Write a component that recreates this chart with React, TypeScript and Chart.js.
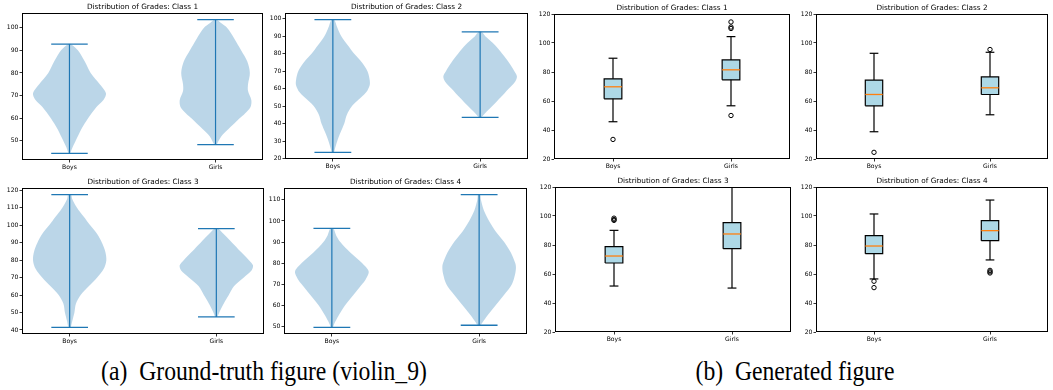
import React, { useEffect, useRef } from 'react';
import { Chart, registerables } from 'chart.js';

Chart.register(...registerables);

// ---------------- DATA ----------------
const groups = ['Boys', 'Girls'];
const classTitles = [
  'Distribution of Grades: Class 1',
  'Distribution of Grades: Class 2',
  'Distribution of Grades: Class 3',
  'Distribution of Grades: Class 4',
];

// Violin extrema [Boys, Girls] per class
const violinMin = [[44.5, 48.3], [23.5, 43.5], [41.5, 47.5], [49.5, 50.5]];
const violinMax = [[92.7, 103.5], [99.5, 92.5], [117.5, 98], [96.5, 112.5]];

// Violin density profiles [grade, relative half-width]
const c1Boys = [[44.5, 0.02], [47, 0.08], [50, 0.17], [55, 0.32], [60, 0.51], [65, 0.74], [68, 0.93], [71, 1.0], [75, 0.83], [80, 0.58], [85, 0.42], [90, 0.23], [92.7, 0.04]];
const c1Girls = [[48.3, 0.03], [52, 0.16], [55, 0.34], [60, 0.66], [62, 0.8], [65, 0.96], [68, 0.98], [72, 0.89], [75, 0.89], [80, 0.94], [85, 0.87], [90, 0.7], [95, 0.52], [100, 0.31], [102, 0.15], [103.5, 0.04]];
const c2Boys = [[23.5, 0.03], [25, 0.05], [30, 0.12], [35, 0.21], [40, 0.31], [45, 0.38], [50, 0.52], [55, 0.77], [58, 0.91], [62, 1.0], [65, 1.0], [70, 0.94], [75, 0.79], [80, 0.58], [85, 0.4], [90, 0.23], [95, 0.12], [99.5, 0.04]];
const c2Girls = [[43.5, 0.03], [46, 0.14], [50, 0.33], [55, 0.56], [60, 0.78], [64, 0.95], [67, 1.0], [70, 0.93], [75, 0.78], [80, 0.6], [85, 0.4], [90, 0.14], [92.5, 0.04]];
const c3Boys = [[41.5, 0.03], [45, 0.07], [50, 0.13], [55, 0.17], [60, 0.3], [65, 0.52], [70, 0.75], [75, 0.93], [80, 1.0], [85, 0.97], [90, 0.88], [95, 0.75], [100, 0.56], [105, 0.38], [110, 0.2], [115, 0.07], [117.5, 0.04]];
const c3Girls = [[47.5, 0.03], [50, 0.08], [55, 0.2], [60, 0.34], [65, 0.48], [70, 0.75], [74, 0.96], [77, 1.0], [80, 0.89], [85, 0.66], [90, 0.43], [95, 0.2], [98, 0.05]];
const c4Boys = [[49.5, 0.03], [51, 0.06], [55, 0.18], [60, 0.36], [65, 0.59], [70, 0.82], [72, 0.91], [76, 1.0], [80, 0.82], [85, 0.5], [90, 0.23], [93, 0.12], [96.5, 0.04]];
const c4Girls = [[50.5, 0.04], [52, 0.1], [55, 0.22], [60, 0.45], [65, 0.68], [70, 0.89], [75, 0.98], [78, 1.0], [80, 0.98], [85, 0.86], [90, 0.68], [95, 0.45], [100, 0.27], [105, 0.13], [110, 0.05], [112.5, 0.03]];
const violinProfiles = [[c1Boys, c1Girls], [c2Boys, c2Girls], [c3Boys, c3Girls], [c4Boys, c4Girls]];

// Violin axes
const violinYMin = [41.55, 19.7, 37.7, 46.35];
const violinYMax = [106.45, 103.3, 121.3, 115.65];
const violinYTicks = [
  [50, 60, 70, 80, 90, 100],
  [20, 30, 40, 50, 60, 70, 80, 90, 100],
  [40, 50, 60, 70, 80, 90, 100, 110, 120],
  [50, 60, 70, 80, 90, 100, 110],
];

// Box plot statistics [Boys, Girls] per class
const boxQ1 = [[61.5, 74.6], [56.7, 64.5], [67.6, 77.5], [74.0, 83.0]];
const boxMedian = [[69.8, 81.5], [64.5, 69.1], [72.4, 87.6], [79.3, 89.9]];
const boxQ3 = [[75.3, 88.3], [74.4, 76.6], [78.9, 95.4], [86.4, 96.8]];
const whiskerLow = [[45.7, 56.7], [38.8, 50.5], [51.7, 50.3], [56.6, 69.7]];
const whiskerHigh = [[89.5, 104.4], [92.9, 93.6], [90.1, 125.0], [101.4, 111.0]];
const boxOutliers = [
  [[33.5], [114.5, 111, 110, 50]],
  [[24.6], [95.5]],
  [[98.5, 97.5, 97], []],
  [[55, 50.6], [62.5, 61.5, 60.7]],
];
const boxYTicks = [20, 40, 60, 80, 100, 120];

// ---------------- STYLE / LAYOUT ----------------
const FONT = '"DejaVu Sans", sans-serif';
const C0 = '#1f77b4';
const VIOLIN_FILL = 'rgba(31,119,180,0.3)';
const VIOLIN_HALF = 0.25;
const VIOLIN_CAP = 0.125;
const BOX_HALF = 0.075;
const BOX_CAP = 0.0375;
const YW = 24;
const TH = 13;
const XH = 12;
const RP = 2;

type Box = { l: number; t: number; r: number; b: number };
const violinBoxes: Box[] = [
  { l: 22, t: 13, r: 261, b: 160 },
  { l: 285, t: 13, r: 526, b: 159 },
  { l: 22, t: 188, r: 262, b: 334 },
  { l: 284, t: 188, r: 525, b: 334 },
];
const boxBoxes: Box[] = [
  { l: 554, t: 14, r: 793, b: 159 },
  { l: 816, t: 14, r: 1051, b: 159 },
  { l: 555, t: 187, r: 794, b: 332 },
  { l: 816, t: 187, r: 1051, b: 332 },
];

const framePlugin = {
  id: 'frame',
  afterDatasetsDraw(chart: any) {
    const { ctx, chartArea: a } = chart;
    ctx.save();
    ctx.strokeStyle = '#000';
    ctx.lineWidth = 1;
    ctx.strokeRect(a.left + 0.5, a.top + 0.5, a.right - a.left - 1, a.bottom - a.top - 1);
    ctx.restore();
  },
};

function seg(points: { x: number; y: number }[], color: string, width: number, order: number) {
  return {
    data: points,
    showLine: true,
    borderColor: color,
    borderWidth: width,
    pointRadius: 0,
    fill: false,
    tension: 0,
    order,
  };
}

function baseOptions(title: string, xmin: number, xmax: number, ymin: number, ymax: number, yticks: number[]) {
  const tickFont = { family: FONT, size: 6.1 };
  const grid = { display: true, drawOnChartArea: false, drawTicks: true, tickLength: 2.5, color: '#000', lineWidth: 0.8 };
  return {
    responsive: false,
    animation: false as const,
    events: [] as any[],
    layout: { padding: 0 },
    plugins: {
      legend: { display: false },
      tooltip: { enabled: false },
      title: {
        display: true,
        text: title,
        fullSize: false,
        color: '#000',
        font: { family: FONT, size: 7.3, weight: 'normal' as const, lineHeight: 1.2 },
        padding: { top: TH - 7.3 * 1.2 - 1.8, bottom: 1.8 },
      },
    },
    scales: {
      x: {
        type: 'linear' as const,
        min: xmin,
        max: xmax,
        grid,
        border: { display: false },
        afterBuildTicks: (s: any) => {
          s.ticks = groups.map((_, i) => ({ value: i + 1 }));
        },
        afterFit: (s: any) => {
          s.height = XH;
        },
        ticks: {
          autoSkip: false,
          maxRotation: 0,
          padding: 1,
          color: '#000',
          font: tickFont,
          callback: (v: any) => groups[Math.round(v) - 1] ?? '',
        },
      },
      y: {
        type: 'linear' as const,
        min: ymin,
        max: ymax,
        grid,
        border: { display: false },
        afterBuildTicks: (s: any) => {
          s.ticks = yticks.map((v) => ({ value: v }));
        },
        afterFit: (s: any) => {
          s.width = YW;
        },
        ticks: { autoSkip: false, padding: 1, color: '#000', font: tickFont },
      },
    },
  };
}

function violinConfig(ci: number) {
  const datasets: any[] = [];
  groups.forEach((_, g) => {
    const pos = g + 1;
    const prof = violinProfiles[ci][g];
    const right = prof.map(([y, w]) => ({ x: pos + w * VIOLIN_HALF, y }));
    const left = prof.slice().reverse().map(([y, w]) => ({ x: pos - w * VIOLIN_HALF, y }));
    datasets.push({
      data: [...right, ...left, right[0]],
      showLine: true,
      fill: 'shape',
      backgroundColor: VIOLIN_FILL,
      borderColor: 'rgba(0,0,0,0)',
      borderWidth: 0,
      pointRadius: 0,
      tension: 0.3,
      order: 5,
    });
    const lo = violinMin[ci][g];
    const hi = violinMax[ci][g];
    datasets.push(seg([{ x: pos, y: lo }, { x: pos, y: hi }], C0, 1.2, 1));
    datasets.push(seg([{ x: pos - VIOLIN_CAP, y: lo }, { x: pos + VIOLIN_CAP, y: lo }], C0, 1.3, 1));
    datasets.push(seg([{ x: pos - VIOLIN_CAP, y: hi }, { x: pos + VIOLIN_CAP, y: hi }], C0, 1.3, 1));
  });
  return {
    type: 'scatter' as const,
    data: { datasets },
    options: baseOptions(classTitles[ci], 0.675, 2.325, violinYMin[ci], violinYMax[ci], violinYTicks[ci]),
    plugins: [framePlugin],
  };
}

function boxConfig(ci: number) {
  const datasets: any[] = [];
  groups.forEach((_, g) => {
    const pos = g + 1;
    const q1 = boxQ1[ci][g];
    const q3 = boxQ3[ci][g];
    const med = boxMedian[ci][g];
    const lo = whiskerLow[ci][g];
    const hi = whiskerHigh[ci][g];
    datasets.push({
      data: [
        { x: pos - BOX_HALF, y: q1 },
        { x: pos + BOX_HALF, y: q1 },
        { x: pos + BOX_HALF, y: q3 },
        { x: pos - BOX_HALF, y: q3 },
        { x: pos - BOX_HALF, y: q1 },
      ],
      showLine: true,
      fill: 'shape',
      backgroundColor: '#add8e6',
      borderColor: '#000',
      borderWidth: 1.2,
      pointRadius: 0,
      tension: 0,
      order: 4,
    });
    datasets.push(seg([{ x: pos, y: q1 }, { x: pos, y: lo }], '#000', 1.2, 3));
    datasets.push(seg([{ x: pos, y: q3 }, { x: pos, y: hi }], '#000', 1.2, 3));
    datasets.push(seg([{ x: pos - BOX_CAP, y: lo }, { x: pos + BOX_CAP, y: lo }], '#000', 1.2, 3));
    datasets.push(seg([{ x: pos - BOX_CAP, y: hi }, { x: pos + BOX_CAP, y: hi }], '#000', 1.2, 3));
    datasets.push(seg([{ x: pos - BOX_HALF, y: med }, { x: pos + BOX_HALF, y: med }], '#ff7f0e', 1.3, 2));
    datasets.push({
      data: boxOutliers[ci][g].map((y) => ({ x: pos, y })),
      showLine: false,
      pointStyle: 'circle',
      pointRadius: 2.2,
      pointBorderWidth: 1,
      pointBorderColor: '#000',
      pointBackgroundColor: 'rgba(0,0,0,0)',
      order: 0,
    });
  });
  return {
    type: 'scatter' as const,
    data: { datasets },
    options: baseOptions(classTitles[ci], 0.5, 2.5, 20, 120, boxYTicks),
    plugins: [framePlugin],
  };
}

function Panel({ box, make }: { box: Box; make: () => any }) {
  const ref = useRef<HTMLCanvasElement>(null);
  const w = box.r - box.l + YW + RP;
  const h = box.b - box.t + TH + XH;
  useEffect(() => {
    const chart = new Chart(ref.current as HTMLCanvasElement, make());
    return () => chart.destroy();
  }, []);
  return (
    <canvas
      ref={ref}
      width={w}
      height={h}
      style={{ position: 'absolute', left: box.l - YW, top: box.t - TH, width: w, height: h }}
    />
  );
}

const captionStyle = (cx: number): React.CSSProperties => ({
  position: 'absolute',
  left: cx,
  top: 356.7,
  transform: 'translateX(-50%) scaleX(0.86)',
  whiteSpace: 'pre',
  fontFamily: '"Liberation Serif", "Times New Roman", serif',
  fontSize: 27.5,
  lineHeight: '28px',
  color: '#000',
});

export default function App() {
  return (
    <div
      style={{ position: 'absolute', left: 0, top: 0, width: 1053, height: 390, background: '#fff', overflow: 'hidden' }}
    >
      {violinBoxes.map((b, i) => (
        <Panel key={'v' + i} box={b} make={() => violinConfig(i)} />
      ))}
      {boxBoxes.map((b, i) => (
        <Panel key={'b' + i} box={b} make={() => boxConfig(i)} />
      ))}
      <div style={captionStyle(263.5)}>{'(a)  Ground-truth figure (violin_9)'}</div>
      <div style={captionStyle(795)}>{'(b)  Generated figure'}</div>
    </div>
  );
}
